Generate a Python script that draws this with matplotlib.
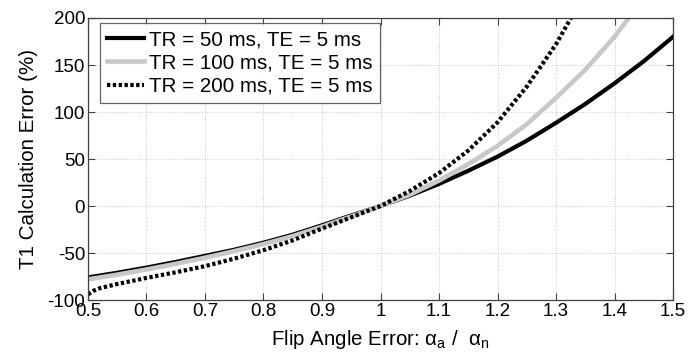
import matplotlib.pyplot as plt

plt.rcParams['font.family'] = ['Liberation Sans', 'DejaVu Sans']
plt.rcParams['mathtext.fontset'] = 'custom'
plt.rcParams['mathtext.rm'] = 'Liberation Sans'
plt.rcParams['mathtext.it'] = 'Liberation Sans'
plt.rcParams['mathtext.default'] = 'regular'
plt.rcParams['axes.unicode_minus'] = False

# values (flip angle ratio vs. T1 error in %)
x_50 = [0.5, 0.55, 0.6, 0.65, 0.7, 0.75, 0.8, 0.85, 0.9, 0.95, 1.0,
        1.05, 1.1, 1.15, 1.2, 1.25, 1.3, 1.35, 1.4, 1.45, 1.5]
err_50 = [-76, -71, -65.5, -59.5, -53, -46.5, -39, -30.5, -20.5, -10, 0,
          11, 23.5, 37.5, 52.5, 69.5, 88.5, 108.5, 130.5, 154, 180]

x_100 = [0.5, 0.55, 0.6, 0.65, 0.7, 0.75, 0.8, 0.85, 0.9, 0.95, 1.0,
         1.05, 1.1, 1.15, 1.2, 1.25, 1.3, 1.35, 1.4, 1.45]
err_100 = [-78, -73, -67.5, -61.5, -55, -48, -40.5, -32, -22, -11, 0,
           12, 27, 44.5, 64, 87, 115, 145, 180, 221]

x_200 = [0.5, 0.51, 0.52, 0.55, 0.6, 0.65, 0.7, 0.75, 0.8, 0.85, 0.9, 0.95, 1.0,
         1.05, 1.1, 1.15, 1.2, 1.25, 1.3, 1.33, 1.35]
err_200 = [-94, -90, -87.5, -83, -76.5, -70.5, -64, -56, -47, -36.5, -24, -12, 0,
           16, 35, 59, 89, 127, 172, 205, 230]

labels = ['TR = 50 ms, TE = 5 ms', 'TR = 100 ms, TE = 5 ms', 'TR = 200 ms, TE = 5 ms']
xticks = [0.5, 0.6, 0.7, 0.8, 0.9, 1, 1.1, 1.2, 1.3, 1.4, 1.5]
xticklabels = ['0.5', '0.6', '0.7', '0.8', '0.9', '1', '1.1', '1.2', '1.3', '1.4', '1.5']
yticks = [-100, -50, 0, 50, 100, 150, 200]

fig = plt.figure(figsize=(6.89, 3.55), dpi=100)
ax = fig.add_axes([0.1277, 0.1549, 0.8491, 0.7944])

ax.plot(x_50, err_50, color='black', lw=3, label=labels[0])
ax.plot(x_100, err_100, color='#c8c8c8', lw=3.3, label=labels[1])
ax.plot(x_200, err_200, color='black', lw=3, linestyle=(0, (0.8, 0.6)), label=labels[2])

ax.set_xlim(0.5, 1.5)
ax.set_ylim(-100, 200)
ax.set_xticks(xticks)
ax.set_xticklabels(xticklabels)
ax.set_yticks(yticks)
ax.tick_params(direction='in', length=5, width=0.8, top=True, right=True,
               labelsize=13.5, colors='#404040', labelcolor='black', pad=2)
ax.grid(True, linestyle=':', color='#c8c8c8', lw=0.7)
for s in ax.spines.values():
    s.set_color('#404040')
    s.set_linewidth(0.9)

ax.set_xlabel(r'Flip Angle Error: $\alpha_a$ /  $\alpha_n$', fontsize=14.8, labelpad=6)
ax.set_ylabel('T1 Calculation Error (%)', fontsize=14.8, labelpad=7)

leg = ax.legend(loc='upper left', bbox_to_anchor=(0.0205, 0.982), borderaxespad=0,
                fontsize=14.8, frameon=True, fancybox=False, handlelength=1.8,
                handletextpad=0.24, labelspacing=0.21, borderpad=0.35)
leg.get_frame().set_edgecolor('#404040')
leg.get_frame().set_linewidth(0.9)

fig.savefig('out.png', dpi=100)
